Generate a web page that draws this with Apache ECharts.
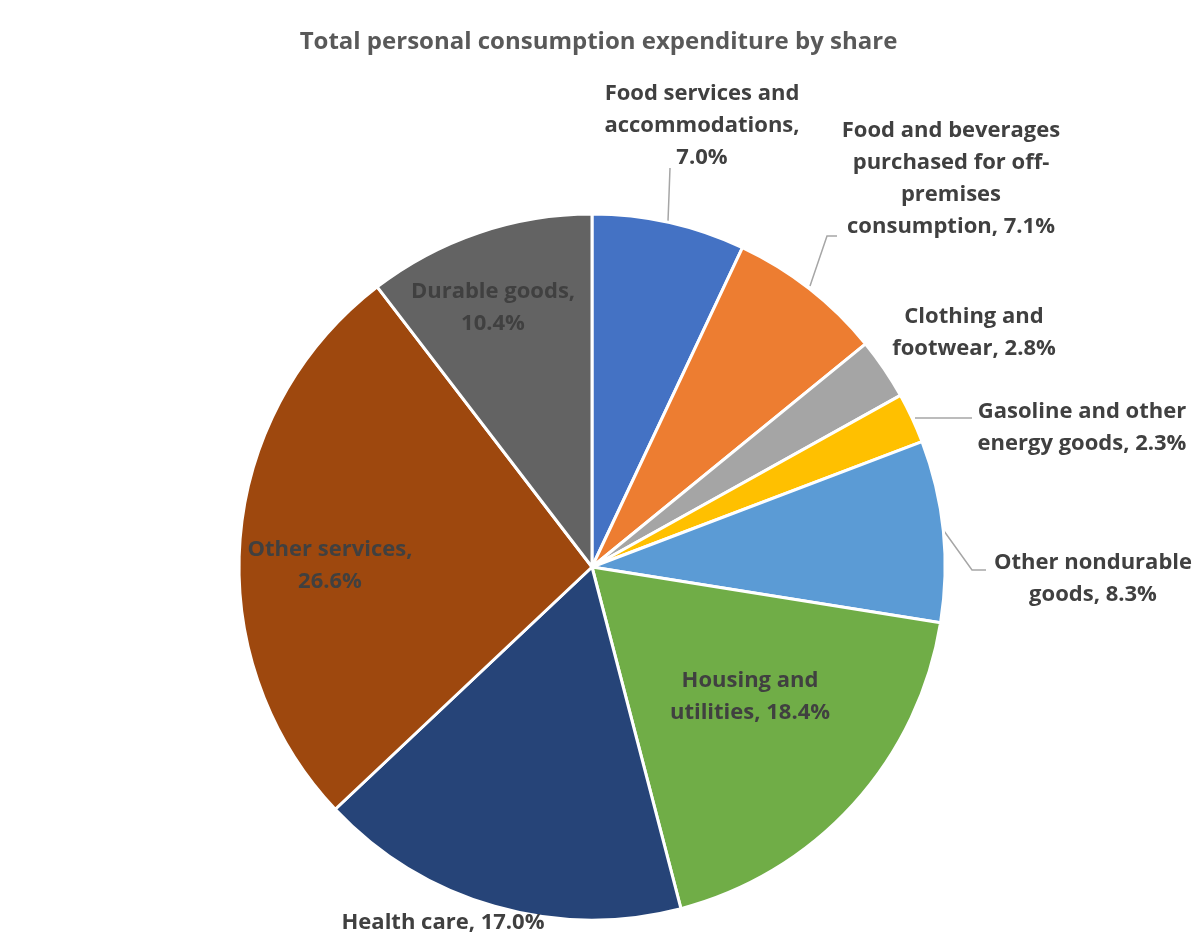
<!DOCTYPE html>
<html lang="en">
<head>
  <meta charset="UTF-8">
  <title>Total personal consumption expenditure by share</title>
  <style>
    html, body { margin: 0; padding: 0; background: #fff; }
    #myEcharts { width: 1197px; height: 945px; }
  </style>
  <script src="https://cdn.jsdelivr.net/npm/echarts@6/dist/echarts.min.js"></script>
</head>
<body>
<div id="myEcharts"></div>
<script>
  // categories, in clockwise order from 12 o'clock
  var categories = [
    'Food services and accommodations',
    'Food and beverages purchased for off-premises consumption',
    'Clothing and footwear',
    'Gasoline and other energy goods',
    'Other nondurable goods',
    'Housing and utilities',
    'Health care',
    'Other services',
    'Durable goods'
  ];
  // share in percent
  var shares = [7.0, 7.1, 2.8, 2.3, 8.3, 18.4, 17.0, 26.6, 10.4];
  // label text as wrapped in the chart, {v} is the share
  var labelText = [
    'Food services and\naccommodations,\n{v}',
    'Food and beverages\npurchased for off-\npremises\nconsumption, {v}',
    'Clothing and\nfootwear, {v}',
    'Gasoline and other\nenergy goods, {v}',
    'Other nondurable\ngoods, {v}',
    'Housing and\nutilities, {v}',
    'Health care, {v}',
    'Other services,\n{v}',
    'Durable goods,\n{v}'
  ];
  var colors = ['#4472C4', '#ED7D31', '#A5A5A5', '#FFC000', '#5B9BD5',
                '#70AD47', '#264478', '#9E480E', '#636363'];

  // label placement (centre of text block) and leader lines
  var labelPos = [
    [702, 126], [951, 179], [974, 333], [1082, 428], [1093, 579],
    [750, 697], [443, 923], [330, 566], [493, 308]
  ];
  var leaders = {
    0: [[668, 221], [669, 195], [670, 168]],
    1: [[810, 286], [827, 236], [837, 236]],
    3: [[915, 418], [945, 418], [972, 418]],
    4: [[944, 531], [972, 570], [986, 570]]
  };

  var myChart = echarts.init(document.getElementById('myEcharts'));

  var data = categories.map(function (name, i) {
    return {
      name: name,
      value: shares[i],
      itemStyle: { color: colors[i] },
      labelLine: { show: !!leaders[i] }
    };
  });

  var option = {
    animation: false,
    title: {
      text: 'Total personal consumption expenditure by share',
      left: 'center',
      top: 25,
      textStyle: {
        fontFamily: 'Open Sans',
        fontSize: 24,
        fontWeight: 'bold',
        color: '#595959'
      }
    },
    series: [
      {
        type: 'pie',
        center: [592, 567],
        radius: 353,
        startAngle: 90,
        clockwise: true,
        avoidLabelOverlap: false,
        itemStyle: { borderColor: '#fff', borderWidth: 3 },
        label: {
          show: true,
          position: 'outside',
          fontFamily: 'Open Sans',
          fontSize: 22,
          fontWeight: 'bold',
          color: '#404040',
          lineHeight: 32,
          align: 'center',
          formatter: function (p) {
            return labelText[p.dataIndex].replace('{v}', p.value.toFixed(1) + '%');
          }
        },
        labelLine: {
          lineStyle: { color: '#A6A6A6', width: 1.5 }
        },
        labelLayout: function (params) {
          var i = params.dataIndex;
          var res = {
            x: labelPos[i][0],
            y: labelPos[i][1],
            align: 'center',
            verticalAlign: 'middle'
          };
          if (leaders[i]) res.labelLinePoints = leaders[i];
          return res;
        },
        data: data
      }
    ]
  };

  myChart.setOption(option);
</script>
</body>
</html>
